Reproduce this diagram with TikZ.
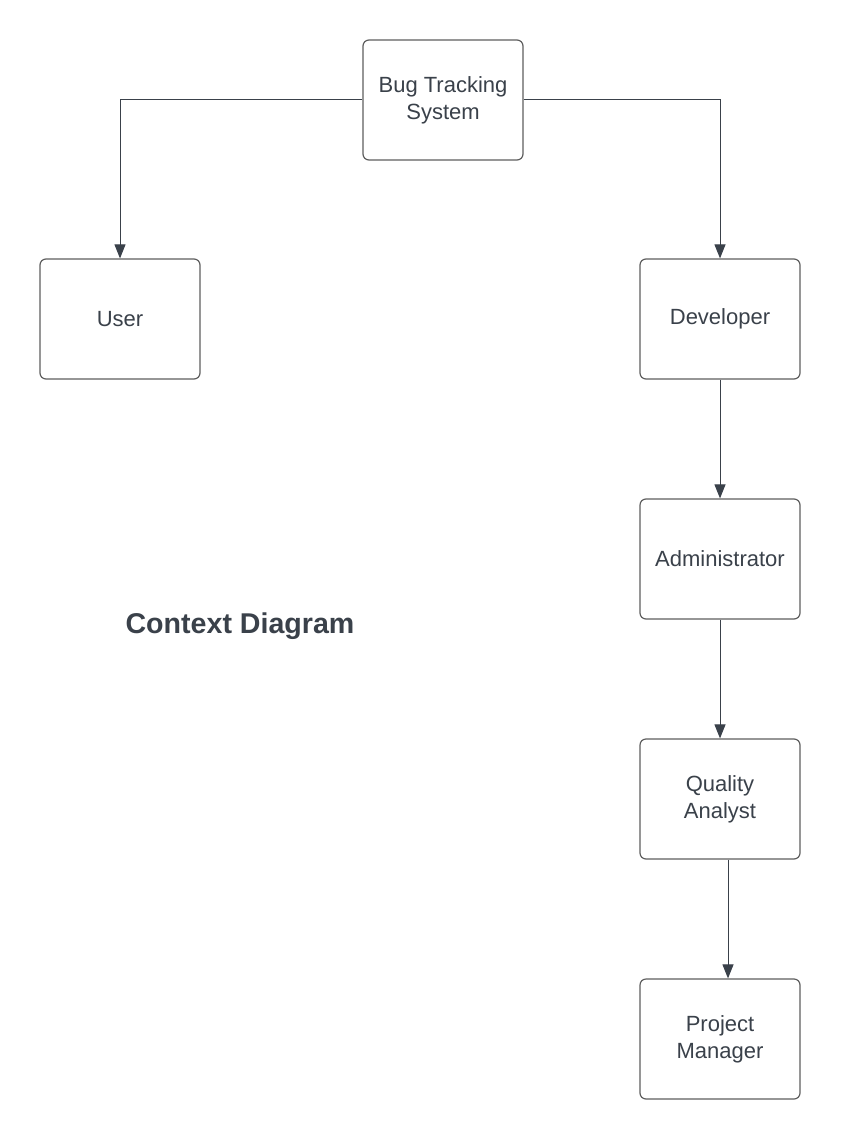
\documentclass[tikz,border=0pt]{standalone}
\usepackage{fontspec}
\setmainfont{Liberation Sans}
\usetikzlibrary{arrows.meta}
\definecolor{txt}{HTML}{3A414A}
\definecolor{boxline}{HTML}{5E5E5E}
\begin{document}
\begin{tikzpicture}[x=1pt,y=-1pt,
  entity/.style={draw=boxline, line width=1.2pt, rounded corners=6pt, minimum width=160pt, minimum height=120pt, align=center, text=txt, font=\fontsize{22}{27}\selectfont, inner sep=0pt},
  conn/.style={draw=txt, line width=1pt, -{Triangle[length=14pt,width=11pt]}}]
\useasboundingbox[fill=white] (0,0) rectangle (840,1139);
\node[entity] (bts) at (443,100) {Bug Tracking\\System};
\node[entity] (user) at (120,319) {User};
\node[entity] (dev) at (720,319) {Developer};
\node[entity] (adm) at (720,559) {Administrator};
\node[entity] (qa) at (720,799) {Quality\\Analyst};
\node[entity] (pm) at (720,1039) {Project\\Manager};
\node[text=txt, font=\fontsize{28.6}{32}\bfseries\selectfont] (title) at (240,626) {Context Diagram};
\draw[conn] (bts.west) -| (user.north);
\draw[conn] (bts.east) -| (dev.north);
\draw[conn] (dev.south) -- (adm.north);
\draw[conn] (adm.south) -- (qa.north);
\draw[conn] ([xshift=8pt]qa.south) -- ([xshift=8pt]pm.north);
\end{tikzpicture}
\end{document}
